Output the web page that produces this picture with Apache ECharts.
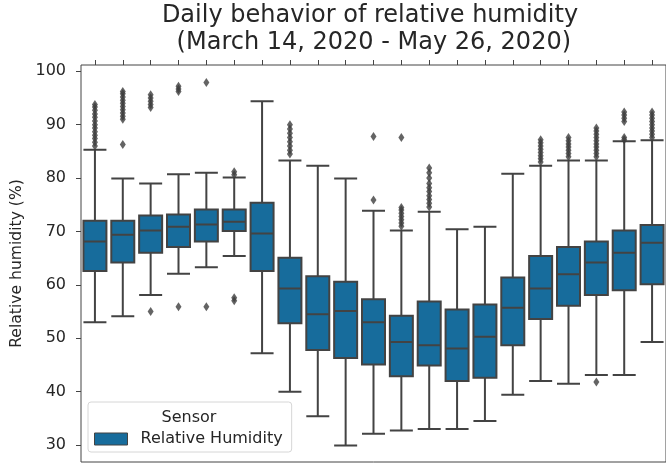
<!DOCTYPE html>
<html>
<head>
<meta charset="utf-8">
<script src="https://cdn.jsdelivr.net/npm/echarts@6/dist/echarts.min.js"></script>
<style>
html,body{margin:0;padding:0;background:#fff;}
#chart{width:666px;height:464px;}
</style>
</head>
<body>
<div id="chart"></div>
<script>
// Hours of the day (only the first 21 are visible in the reference)
var hours = ['0','1','2','3','4','5','6','7','8','9','10','11','12','13','14','15','16','17','18','19','20'];
// Box statistics (relative humidity, %)
var whiskerLow  = [53.0, 54.1, 58.1, 62.1, 63.3, 65.4, 47.2, 40.0, 35.4, 29.9, 32.1, 32.7, 33.0, 33.0, 34.5, 39.4, 42.0, 41.5, 43.1, 43.1, 49.3];
var quart1      = [62.6, 64.2, 66.0, 67.1, 68.1, 70.1, 62.6, 52.8, 47.8, 46.3, 45.1, 42.9, 44.9, 42.0, 42.6, 48.7, 53.6, 56.1, 58.1, 59.0, 60.1];
var medians     = [68.1, 69.4, 70.2, 70.9, 71.3, 71.8, 69.6, 59.3, 54.5, 55.1, 53.0, 49.3, 48.7, 48.1, 50.3, 55.7, 59.3, 62.0, 64.2, 66.0, 67.9];
var quart3      = [72.0, 72.0, 73.0, 73.2, 74.1, 74.1, 75.4, 65.1, 61.6, 60.6, 57.3, 54.2, 56.9, 55.4, 56.3, 61.4, 65.4, 67.1, 68.1, 70.2, 71.2];
var whiskerHigh = [85.3, 79.9, 79.0, 80.7, 81.0, 80.1, 94.4, 83.3, 82.3, 79.9, 73.9, 70.2, 73.7, 70.4, 70.9, 80.8, 82.3, 83.3, 83.3, 86.9, 87.1];
// Outliers per hour
var outliers = [
  [86.0, 86.7, 87.4, 88.0, 88.7, 89.4, 90.0, 90.7, 91.4, 92.0, 92.7, 93.3, 93.8],
  [86.3, 91.0, 91.6, 92.2, 92.8, 93.4, 94.0, 94.6, 95.2, 95.8, 96.2],
  [55.0, 93.2, 93.8, 94.4, 95.0, 95.6],
  [55.9, 96.2, 96.7, 97.2],
  [55.9, 97.9],
  [57.0, 57.6, 80.6, 81.2],
  [],
  [84.5, 85.2, 86.0, 86.8, 87.6, 88.4, 89.2, 90.0],
  [],
  [],
  [75.9, 87.8],
  [71.0, 71.6, 72.2, 72.8, 73.4, 74.0, 74.5, 87.6],
  [74.6, 75.3, 76.0, 76.7, 77.5, 78.2, 79.0, 80.0, 81.0, 81.9],
  [],
  [],
  [],
  [83.0, 83.6, 84.2, 84.8, 85.4, 86.0, 86.6, 87.2],
  [84.0, 84.6, 85.2, 85.8, 86.4, 87.0, 87.6],
  [41.8, 84.0, 84.6, 85.2, 85.8, 86.4, 87.0, 87.6, 88.2, 88.8, 89.4],
  [87.2, 87.6, 90.6, 91.2, 91.8, 92.4],
  [87.6, 88.2, 88.8, 89.4, 90.0, 90.6, 91.2, 91.8, 92.4]
];
var yTicks = [30, 40, 50, 60, 70, 80, 90, 100];

var boxData = hours.map(function (h, i) {
  return [whiskerLow[i], quart1[i], medians[i], quart3[i], whiskerHigh[i]];
});
var outlierData = [];
outliers.forEach(function (arr, i) {
  arr.forEach(function (v) { outlierData.push([hours[i], v]); });
});

var FONT = 'DejaVu Sans';
var BOX_FILL = '#176c9c';
var LINE = '#434343';
var chart = echarts.init(document.getElementById('chart'), null, {renderer: 'canvas'});
chart.setOption({
  animation: false,
  backgroundColor: '#ffffff',
  grid: {
    left: 81, top: 65, right: -1, bottom: 2,
    show: true, borderColor: '#444444', borderWidth: 1, backgroundColor: 'transparent'
  },
  xAxis: {
    type: 'category',
    data: hours,
    position: 'top',
    boundaryGap: true,
    axisLine: {show: false},
    axisTick: {show: true, alignWithLabel: true, interval: 0, length: 5, lineStyle: {color: '#444444', width: 1}},
    axisLabel: {show: false, interval: 0},
    splitLine: {show: false}
  },
  yAxis: {
    type: 'value',
    min: 26.82,
    max: 101.18,
    name: 'Relative humidity (%)',
    nameLocation: 'middle',
    nameGap: 54,
    nameTextStyle: {fontFamily: FONT, fontSize: 15.6, color: '#262626'},
    axisLine: {show: false},
    axisTick: {show: true, length: 5, customValues: yTicks, lineStyle: {color: '#444444', width: 1}},
    axisLabel: {customValues: yTicks, fontFamily: FONT, fontSize: 16, color: '#262626', margin: 15},
    splitLine: {show: false}
  },
  legend: {
    data: [{name: 'Relative Humidity', itemStyle: {color: BOX_FILL, borderColor: LINE, borderWidth: 1}}],
    left: 88,
    top: 402,
    orient: 'vertical',
    padding: [29, 9, 5, 6],
    backgroundColor: '#ffffff',
    borderColor: '#d6d6d6',
    borderWidth: 1,
    borderRadius: 3,
    itemWidth: 33,
    itemHeight: 12,
    icon: 'rect',
    textStyle: {fontFamily: FONT, fontSize: 16, color: '#262626', padding: [0, 0, 0, 8]},
    z: 10
  },
  graphic: [
    {
      type: 'text', z: 100,
      style: {
        text: 'Daily behavior of relative humidity\n (March 14, 2020 - May 26, 2020)',
        x: 370, y: 2, textAlign: 'center', textVerticalAlign: 'top',
        font: '24px "DejaVu Sans"', lineHeight: 27, fill: '#262626'
      }
    },
    {
      type: 'text', z: 100,
      style: {
        text: 'Sensor', x: 189, y: 418, textAlign: 'center', textVerticalAlign: 'middle',
        font: '16px "DejaVu Sans"', fill: '#262626'
      }
    }
  ],
  series: [
    {
      name: 'Relative Humidity',
      type: 'boxplot',
      data: boxData,
      boxWidth: [23, 23],
      itemStyle: {color: BOX_FILL, borderColor: LINE, borderWidth: 2},
      emphasis: {disabled: true}
    },
    {
      name: 'outliers',
      type: 'scatter',
      data: outlierData,
      symbol: 'diamond',
      symbolSize: [6, 9],
      itemStyle: {color: '#3d3d3d'},
      emphasis: {disabled: true}
    }
  ]
});
</script>
</body>
</html>
